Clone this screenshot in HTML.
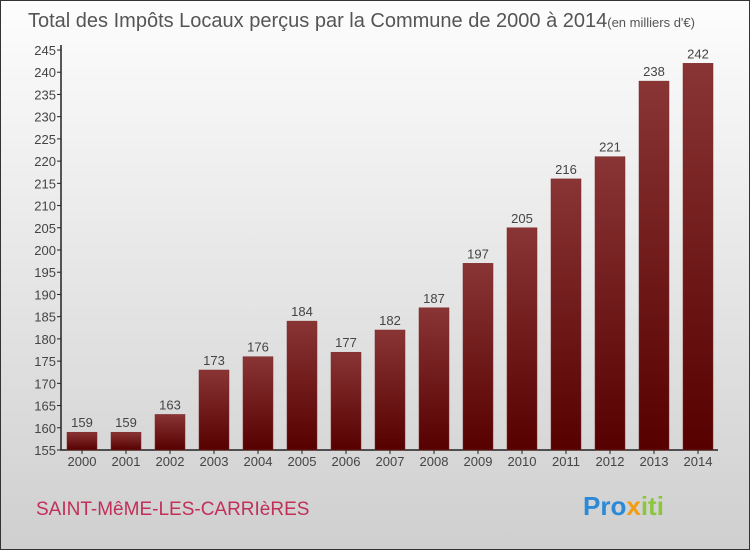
<!DOCTYPE html>
<html><head><meta charset="utf-8"><style>
body{margin:0;width:750px;height:550px;overflow:hidden;}
svg{display:block;font-family:"Liberation Sans",sans-serif;}
</style></head><body>
<svg id="c" width="750" height="550">
<defs>
<linearGradient id="bg" x1="0" y1="0" x2="0" y2="1"><stop offset="0" stop-color="#fdfdfd"/><stop offset="1" stop-color="#cfcfcf"/></linearGradient>
<linearGradient id="bar" x1="0" y1="0" x2="0" y2="1"><stop offset="0" stop-color="#8a3535"/><stop offset="1" stop-color="#560000"/></linearGradient>
</defs>
<rect x="0.5" y="0.5" width="749" height="549" fill="url(#bg)" stroke="#333"/>
<text x="28" y="27" font-size="20" fill="#555">Total des Impôts Locaux perçus par la Commune de 2000 à 2014<tspan font-size="13">(en milliers d'€)</tspan></text>
<g id="plot"></g>
<text x="36" y="515" font-size="19" fill="#c0305a">SAINT-MêME-LES-CARRIèRES</text>
<text x="583" y="515" font-size="26" font-weight="bold"><tspan fill="#2a8ad8">Pro</tspan><tspan fill="#f39c12">x</tspan><tspan fill="#8cc63f">iti</tspan></text>
</svg>
<script>
const years=["2000","2001","2002","2003","2004","2005","2006","2007","2008","2009","2010","2011","2012","2013","2014"];
const values=[159,159,163,173,176,184,177,182,187,197,205,216,221,238,242];
const ticks=[155,160,165,170,175,180,185,190,195,200,205,210,215,220,225,230,235,240,245];
const NS="http://www.w3.org/2000/svg";
const g=document.getElementById('plot');
const y=v=>450-(v-155)*400/90;
const x=i=>82+i*44;
function mk(t,a,txt){const e=document.createElementNS(NS,t);for(const k in a)e.setAttribute(k,a[k]);if(txt!==undefined)e.textContent=txt;g.appendChild(e);return e;}
let ax=mk('path',{d:'M61,45V450H718',stroke:'#222',fill:'none','stroke-width':1.5});


ticks.forEach(t=>{
 let l=mk('line',{x1:57,x2:61,y1:y(t),y2:y(t),stroke:'#222'});
 
 
 let tx=mk('text',{x:56,y:y(t)+5,'text-anchor':'end','font-size':13,fill:'#444'},t);
 
 
});
years.forEach((yr,i)=>{
 const v=values[i];
 let b=mk('rect',{x:x(i)-15,y:y(v),width:30,height:450-y(v),fill:'url(#bar)',stroke:'#7a2a2a','stroke-width':0.5});
 
 
 let vl=mk('text',{x:x(i),y:y(v)-5,'text-anchor':'middle','font-size':13,fill:'#444'},v);
 
 
 let tk=mk('line',{x1:x(i),x2:x(i),y1:450,y2:454,stroke:'#222'});
 
 
 let xl=mk('text',{x:x(i),y:466,'text-anchor':'middle','font-size':13,fill:'#444'},yr);
 
 
});
</script>
</body></html>
